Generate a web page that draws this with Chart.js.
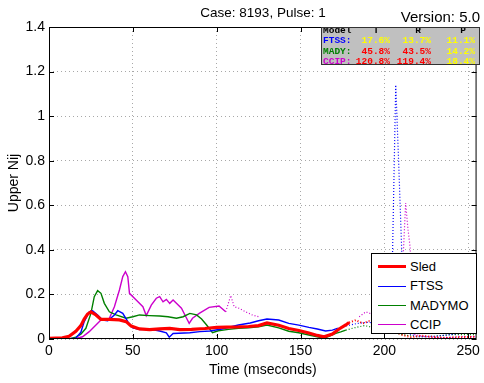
<!DOCTYPE html>
<html>
<head>
<meta charset="utf-8">
<script src="https://cdn.jsdelivr.net/npm/chart.js@4.4.0/dist/chart.umd.min.js"></script>
<style>
  body { margin: 0; background: #fff; }
  #wrap { position: relative; width: 484px; height: 383px; font-family: "Liberation Sans", Arial, sans-serif; }
  #chart { position: absolute; left: 0; top: 0; }
  .title { position: absolute; white-space: nowrap; color: #000; line-height: 1; }
  #stats { position: absolute; left: 321px; top: 27px; width: 157px; height: 36px; background: #c0c0c0;
           border: 1px solid #333; overflow: hidden; font-family: "Liberation Mono", "Courier New", monospace;
           font-weight: bold; font-size: 9.5px; line-height: 1; }
  #stats span { position: absolute; white-space: nowrap; }
  #legend { position: absolute; left: 371px; top: 253px; width: 104px; height: 79px; background: #fff;
            border: 1px solid #000; font-size: 13px; }
  #legend .row { position: absolute; left: 0; height: 16px; width: 100%; }
  #legend .ln { position: absolute; left: 6px; width: 28px; top: 8px; }
  #legend .tx { position: absolute; left: 38px; top: 0; line-height: 16px; }
</style>
</head>
<body>
<div id="wrap">
  <canvas id="chart" width="484" height="383"></canvas>
  <div class="title" id="caseTitle" style="left:263px; top:6px; font-size:13.5px; transform:translateX(-50%);">Case: 8193, Pulse: 1</div>
  <div class="title" id="version" style="right:4px; top:9px; font-size:15px;">Version: 5.0</div>
  <div id="stats"></div>
  <div id="legend"></div>
</div>
<script>
// series: time (ms) and Upper Nij values
const sledT = [0, 8, 12, 16, 19, 21, 23, 25, 28, 31, 36, 42, 46, 49, 54, 60, 66, 72, 78, 85, 93, 100, 106, 113, 119, 125, 130, 137, 143, 149, 155, 160, 164, 169, 173, 177, 179, 183, 187, 191, 196, 200, 205, 210, 216, 222, 228, 236, 245, 255];
const sledV = [0.003, 0.005, 0.012, 0.035, 0.06, 0.09, 0.112, 0.122, 0.108, 0.088, 0.088, 0.086, 0.078, 0.058, 0.045, 0.042, 0.045, 0.048, 0.042, 0.043, 0.047, 0.052, 0.053, 0.054, 0.056, 0.06, 0.072, 0.062, 0.047, 0.038, 0.027, 0.016, 0.01, 0.022, 0.045, 0.063, 0.074, 0.085, 0.07, 0.08, 0.07, 0.06, 0.04, 0.02, 0.008, 0.015, 0.01, 0.005, 0.008, 0.01];

const ftssT = [0, 10, 16, 19, 21, 24, 26, 29, 32, 35, 39, 41, 44, 47, 50, 54, 60, 66, 70, 71.7, 74, 84, 90, 96, 103, 113, 120, 125, 130, 137, 143, 149, 155, 160, 165, 169, 172, 178, 184, 190, 196, 200, 203.8, 204.9, 206.8, 208.5, 210.4, 212.3, 220, 230, 240, 250, 255];
const ftssV = [0, 0, 0.004, 0.03, 0.078, 0.122, 0.127, 0.108, 0.085, 0.082, 0.108, 0.127, 0.115, 0.078, 0.05, 0.042, 0.045, 0.036, 0.028, 0.008, 0.025, 0.028, 0.033, 0.036, 0.045, 0.063, 0.072, 0.082, 0.09, 0.085, 0.07, 0.062, 0.052, 0.045, 0.036, 0.04, 0.048, 0.06, 0.07, 0.075, 0.07, 0.075, 0.05, 0.39, 1.14, 0.8, 0.39, 0.03, 0.01, 0.012, 0.02, 0.03, 0.05];

const madyT = [0, 12, 16, 19, 22, 25, 27, 29, 31, 33, 36, 40, 46, 50, 54, 60, 66, 71, 76, 80, 84, 88, 91, 94, 97.5, 101, 107, 113, 119, 125, 130, 137, 143, 149, 155, 160, 164, 168, 171, 174, 177, 182, 188, 195, 200, 210, 220, 230, 240, 250, 255];
const madyV = [0, 0, 0.008, 0.022, 0.048, 0.115, 0.19, 0.217, 0.205, 0.16, 0.122, 0.108, 0.093, 0.1, 0.108, 0.105, 0.103, 0.1, 0.093, 0.1, 0.115, 0.108, 0.09, 0.063, 0.028, 0.037, 0.043, 0.048, 0.05, 0.055, 0.063, 0.05, 0.035, 0.028, 0.018, 0.01, 0.003, 0.015, 0.025, 0.032, 0.04, 0.05, 0.06, 0.05, 0.04, 0.02, 0.01, 0.012, 0.02, 0.02, 0.02];

const ccipT = [0, 15, 20, 24, 28, 31, 34, 36, 39, 42, 44, 45.6, 47, 48, 52, 56, 58, 61, 64, 66, 68, 70, 72, 74, 76, 79, 81.6, 83.6, 85.6, 89.6, 95.5, 101.4, 105.4, 108.4, 110.4, 113.3, 117.3, 121.2, 125, 128, 185, 189, 193, 198, 203, 207, 209.5, 210.8, 212.7, 214, 215.4, 216.5, 218, 225, 235, 245, 255];
const ccipV = [0, 0, 0.01, 0.033, 0.063, 0.085, 0.085, 0.093, 0.145, 0.22, 0.28, 0.302, 0.28, 0.205, 0.175, 0.145, 0.105, 0.152, 0.183, 0.19, 0.167, 0.178, 0.16, 0.175, 0.16, 0.138, 0.1, 0.07, 0.093, 0.115, 0.142, 0.148, 0.122, 0.195, 0.145, 0.138, 0.122, 0.108, 0.1, null, 0.1, 0.122, 0.11, 0.09, 0.07, 0.06, 0.05, 0.3, 0.61, 0.5, 0.41, 0.1, 0.02, 0.01, 0.005, 0.01, 0.01];

// time after which each trace is drawn dotted
const dottedFrom = { sled: 179, ftss: 172, mady: 177, ccip: 105.4 };

const xTicks = [0, 50, 100, 150, 200, 250];
const yTicks = [0, 0.2, 0.4, 0.6, 0.8, 1, 1.2, 1.4];

const statCols = ["T", "R", "P"];
const statRows = [
  { name: "FTSS:", color: "#0000ff", vals: ["17.6%", "13.7%", "11.1%"], colors: ["#ffff00", "#ffff00", "#ffff00"] },
  { name: "MADY:", color: "#008000", vals: ["45.8%", "43.5%", "14.2%"], colors: ["#ff0000", "#ff0000", "#ffff00"] },
  { name: "CCIP:", color: "#cc00cc", vals: ["120.8%", "119.4%", "18.4%"], colors: ["#ff0000", "#ff0000", "#ffff00"] }
];

function pts(t, v) {
  return t.map((x, i) => ({ x: x, y: v[i] }));
}

function trace(label, t, v, color, width, cut, dotWidth) {
  return {
    label: label,
    data: pts(t, v),
    borderColor: color,
    borderWidth: width,
    pointRadius: 0,
    tension: 0,
    spanGaps: false,
    segment: {
      borderDash: ctx => ctx.p0.parsed.x >= cut ? [1, 2] : undefined,
      borderWidth: ctx => ctx.p0.parsed.x >= cut ? dotWidth : undefined
    }
  };
}

const datasets = [
  trace("Sled", sledT, sledV, "#ff0000", 3.2, dottedFrom.sled, 2),
  trace("FTSS", ftssT, ftssV, "#0000ff", 1.4, dottedFrom.ftss, 1.2),
  trace("MADYMO", madyT, madyV, "#008000", 1.4, dottedFrom.mady, 1.2),
  trace("CCIP", ccipT, ccipV, "#cc00cc", 1.4, dottedFrom.ccip, 1.2)
];

// box around the axes with inward ticks, like the original
const frame = {
  id: "frame",
  afterDatasetsDraw(chart) {
    const { ctx, chartArea: a, scales } = chart;
    ctx.save();
    ctx.strokeStyle = "#000";
    ctx.lineWidth = 1;
    ctx.strokeRect(a.left + 0.5, a.top + 0.5, a.right - a.left - 1, a.bottom - a.top - 1);
    ctx.beginPath();
    xTicks.forEach(v => {
      const p = Math.round(scales.x.getPixelForValue(v)) + 0.5;
      ctx.moveTo(p, a.bottom); ctx.lineTo(p, a.bottom - 5);
      ctx.moveTo(p, a.top); ctx.lineTo(p, a.top + 5);
    });
    yTicks.forEach(v => {
      const p = Math.round(scales.y.getPixelForValue(v)) + 0.5;
      ctx.moveTo(a.left, p); ctx.lineTo(a.left + 5, p);
      ctx.moveTo(a.right, p); ctx.lineTo(a.right - 5, p);
    });
    ctx.stroke();
    ctx.restore();
  }
};

const font = { family: "'Liberation Sans', Arial, sans-serif", size: 14 };

new Chart(document.getElementById("chart"), {
  type: "line",
  data: { datasets: datasets },
  plugins: [frame],
  options: {
    responsive: false,
    animation: false,
    layout: { padding: { top: 27, right: 7, left: 0, bottom: 0 } },
    plugins: { legend: { display: false }, title: { display: false }, tooltip: { enabled: false } },
    scales: {
      x: {
        type: "linear",
        min: 0,
        max: 255,
        afterFit: s => { s.height = 44; },
        afterBuildTicks: s => { s.ticks = xTicks.map(v => ({ value: v })); },
        ticks: { color: "#000", font: font, padding: 4, maxRotation: 0, callback: v => String(v) },
        grid: { color: "#a8a8a8", drawTicks: false },
        border: { display: false, dash: [1, 3] },
        title: { display: true, text: "Time (mseconds)", color: "#000", font: font, padding: { top: 0, bottom: 4 } }
      },
      y: {
        min: 0,
        max: 1.4,
        afterFit: s => { s.width = 49; },
        afterBuildTicks: s => { s.ticks = yTicks.map(v => ({ value: v })); },
        ticks: { color: "#000", font: font, padding: 4, callback: v => String(Math.round(v * 10) / 10) },
        grid: { color: "#a8a8a8", drawTicks: false },
        border: { display: false, dash: [1, 3] },
        title: { display: true, text: "Upper Nij", color: "#000", font: font, padding: { top: 6, bottom: 0 } }
      }
    }
  }
});

// statistics table in the upper right
const stats = document.getElementById("stats");
const colRight = [68, 109, 153];
const colMid = [54, 96, 141];
function addSpan(text, color, style) {
  const s = document.createElement("span");
  s.textContent = text;
  s.style.color = color;
  Object.assign(s.style, style);
  stats.appendChild(s);
}
addSpan("Model", "#000", { left: "1px", top: "-2px" });
statCols.forEach((c, i) => addSpan(c, "#000", { left: (colMid[i] - 4) + "px", top: "-2px", width: "8px", textAlign: "center" }));
statRows.forEach((r, j) => {
  const top = 8 + j * 10.7;
  addSpan(r.name, r.color, { left: "1px", top: top + "px" });
  r.vals.forEach((v, i) => addSpan(v, r.colors[i], { left: (colRight[i] - 50) + "px", width: "50px", top: top + "px", textAlign: "right" }));
});

// legend box
const legend = document.getElementById("legend");
datasets.forEach((d, i) => {
  const row = document.createElement("div");
  row.className = "row";
  row.style.top = (5 + i * 19.3) + "px";
  const ln = document.createElement("div");
  ln.className = "ln";
  ln.style.borderTop = d.borderWidth + "px solid " + d.borderColor;
  ln.style.marginTop = (-d.borderWidth / 2) + "px";
  const tx = document.createElement("div");
  tx.className = "tx";
  tx.textContent = d.label;
  row.appendChild(ln);
  row.appendChild(tx);
  legend.appendChild(row);
});
</script>
</body>
</html>
